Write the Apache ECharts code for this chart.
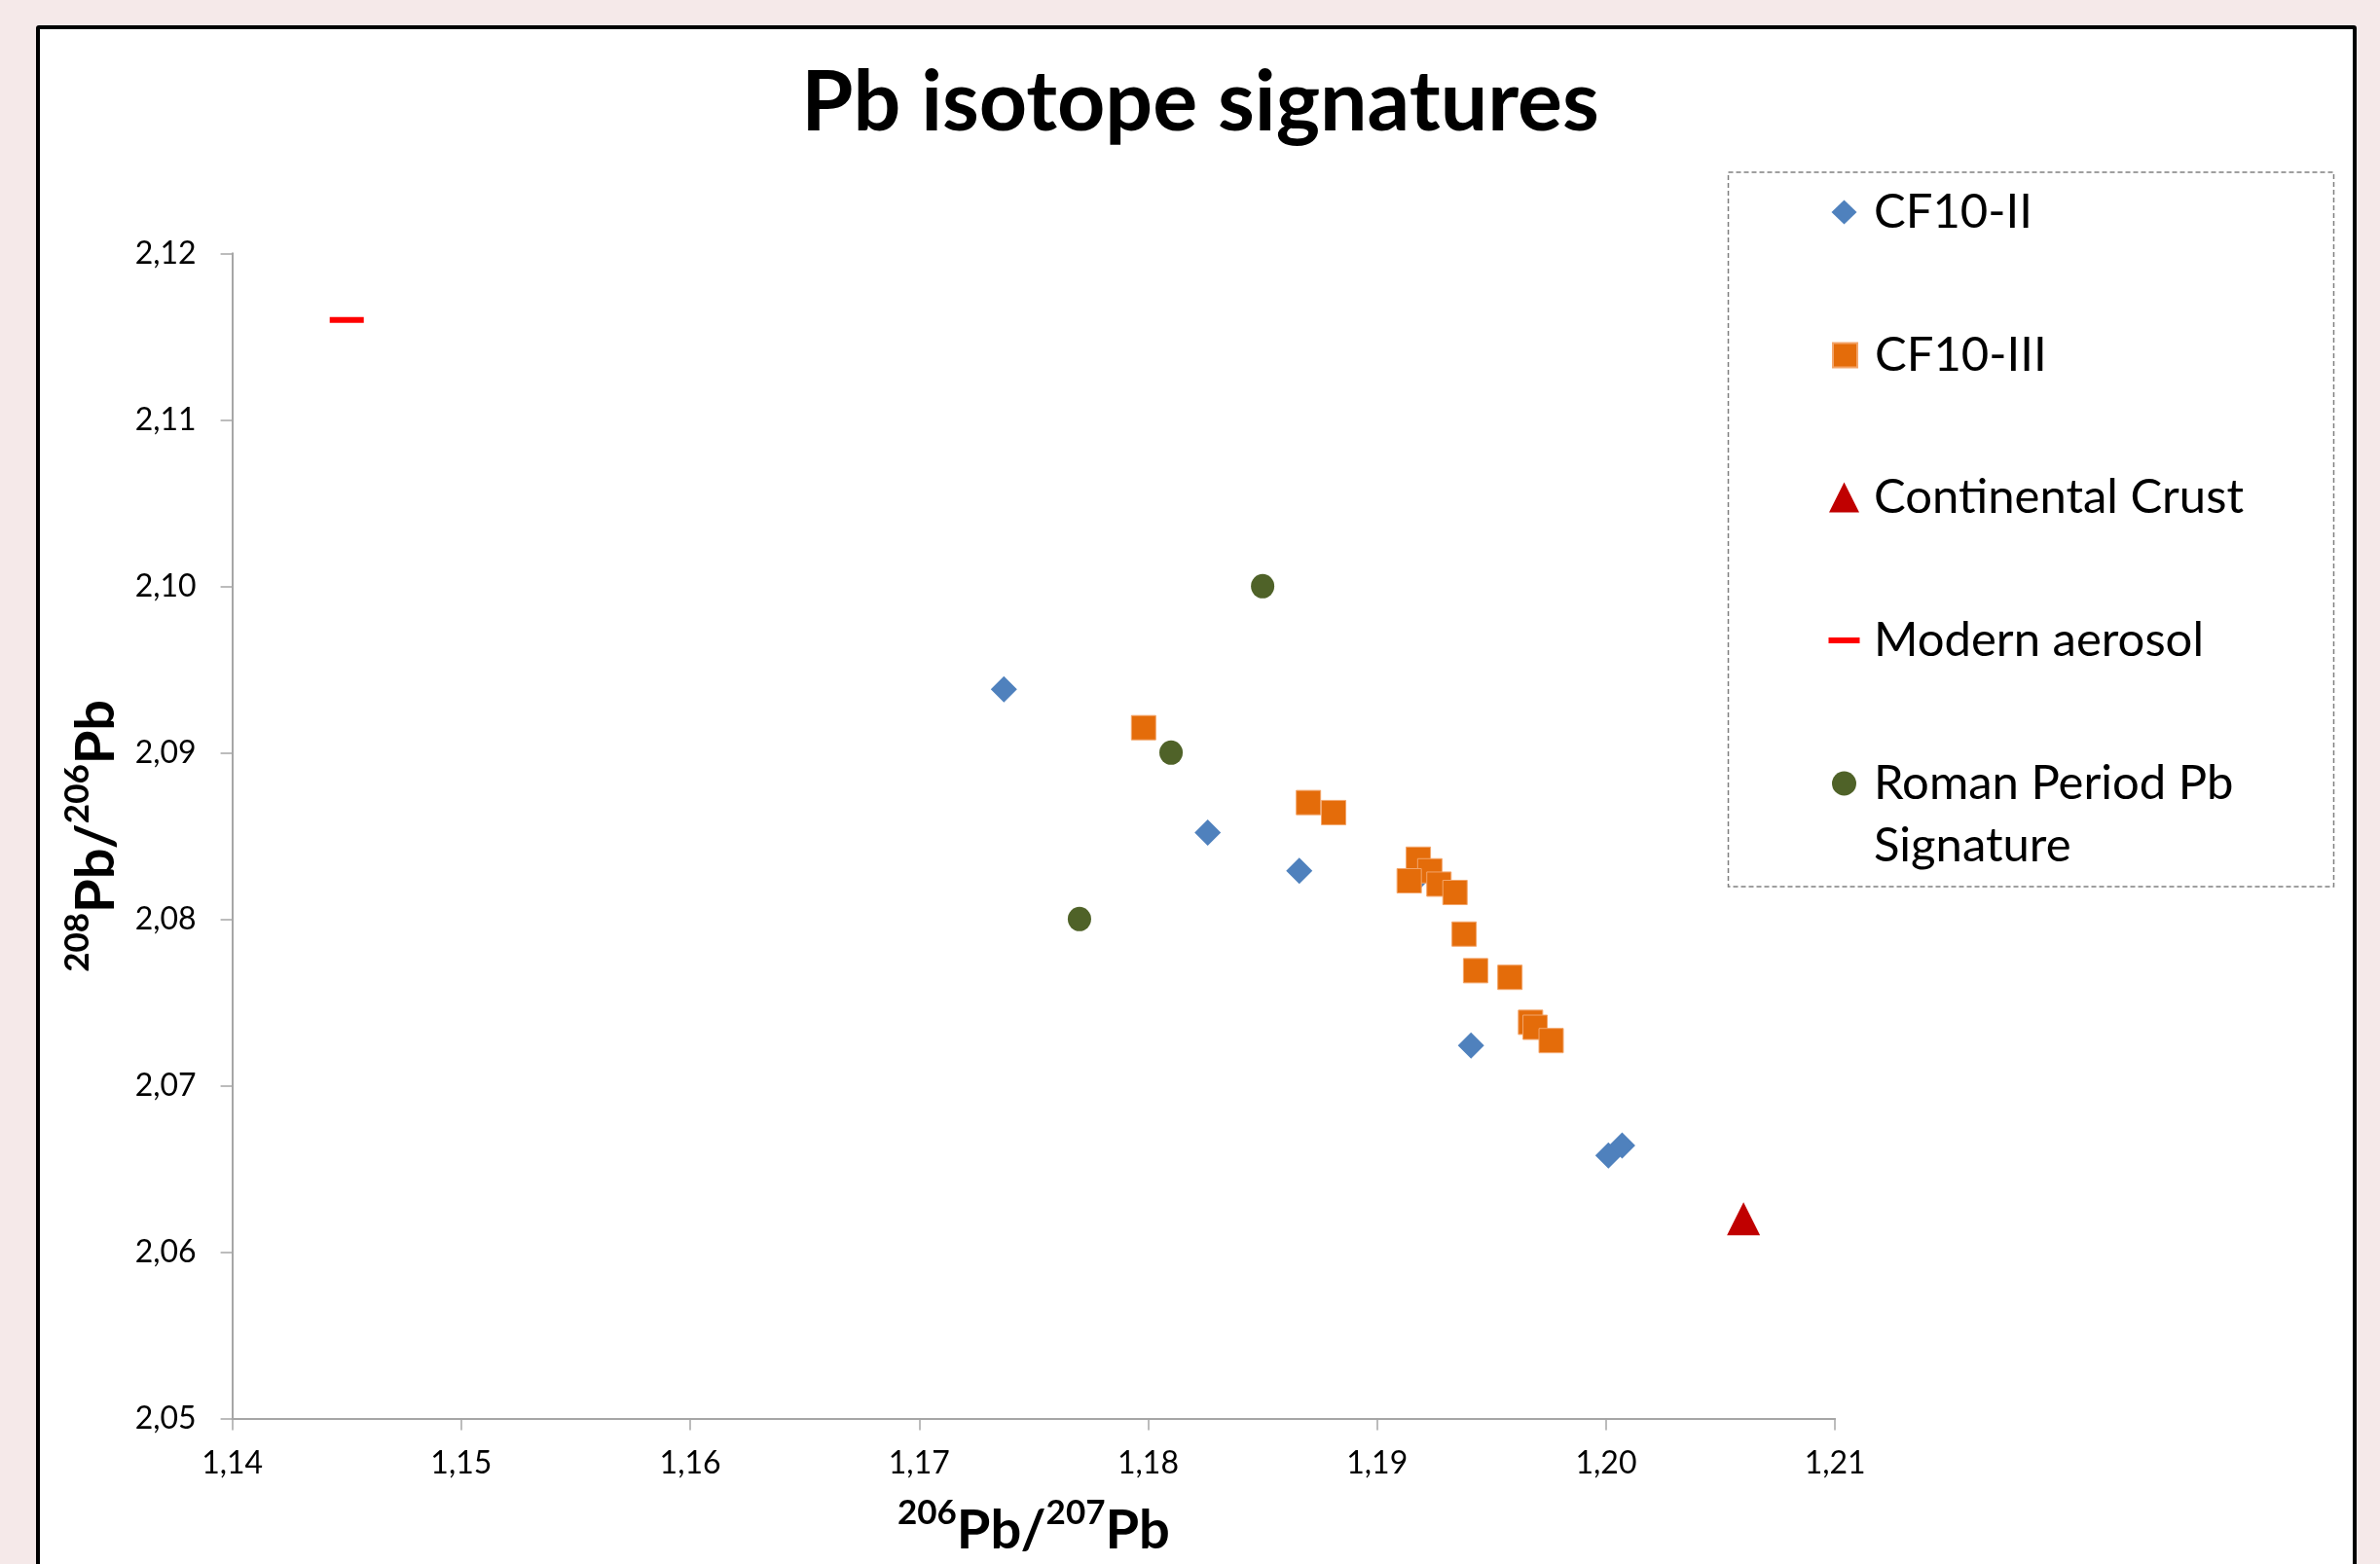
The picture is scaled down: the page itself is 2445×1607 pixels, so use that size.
<!DOCTYPE html>
<html lang="en">
    <head>
        <meta charset="UTF-8" />
        <script src="https://cdn.jsdelivr.net/npm/echarts@6.0.0/dist/echarts.min.js"></script>
        <title>Pb isotope signatures</title>
        <style>
            body {
                margin: 0;
                background: #f5e9e9;
                overflow: hidden;
            }

            #frame {
                position: absolute;
                left: 37px;
                top: 26px;
                width: 2384px;
                height: 1700px;
                box-sizing: border-box;
                border: 4px solid #000;
                border-radius: 3px;
                background: #fff;
            }

            #chart {
                position: absolute;
                left: 0;
                top: 0;
                width: 2445px;
                height: 1607px;
            }
        </style>
    </head>

    <body>
        <div id="frame"></div>
        <div id="chart"></div>
        <script type="text/javascript">
            // values: [206Pb/207Pb, 208Pb/206Pb]
            var cf10II = [
                [1.1737, 2.0938],
                [1.1826, 2.0852],
                [1.1866, 2.0829],
                [1.1918, 2.0825],
                [1.1941, 2.0724],
                [1.2001, 2.0658],
                [1.2007, 2.0664],
            ];
            var cf10III = [
                [1.1798, 2.0915],
                [1.187, 2.087],
                [1.1881, 2.0864],
                [1.1918, 2.0836],
                [1.1923, 2.0829],
                [1.1914, 2.0823],
                [1.1927, 2.0821],
                [1.1934, 2.0816],
                [1.1938, 2.0791],
                [1.1943, 2.0769],
                [1.1958, 2.0765],
                [1.1967, 2.0738],
                [1.1969, 2.0735],
                [1.1976, 2.0727],
            ];
            var crust = [[1.206, 2.062]];
            var aerosol = [[1.145, 2.116]];
            var roman = [
                [1.185, 2.1],
                [1.181, 2.09],
                [1.177, 2.08],
            ];

            var seriesNames = ["CF10-II", "CF10-III", "Continental Crust", "Modern aerosol", "Roman Period Pb Signature"];
            var xRange = [1.14, 1.21];
            var yRange = [2.05, 2.12];
            var step = 0.01;

            var FONT = "Lato";

            function comma(v) {
                return v.toFixed(2).replace(".", ",");
            }

            var supRich = {
                s: { fontFamily: FONT, fontWeight: "bold", fontSize: 35, color: "#000", verticalAlign: "top", lineHeight: 64 },
                b: { fontFamily: FONT, fontWeight: "bold", fontSize: 56, color: "#000", verticalAlign: "bottom", lineHeight: 64 },
            };

            // one legend per entry so each icon can have its own size
            function legendItem(name, left, centerY, w, h, padLeft, twoLines) {
                var lh = 64;
                return {
                    data: [name],
                    orient: "vertical",
                    left: left,
                    top: twoLines ? centerY - 1.5 * lh : centerY - lh / 2,
                    padding: 0,
                    itemWidth: w,
                    itemHeight: h,
                    selectedMode: false,
                    // leading empty line keeps the first text line level with the icon
                    formatter: twoLines ? "\nRoman Period Pb\nSignature" : "{name}",
                    textStyle: {
                        fontFamily: FONT,
                        fontSize: 49,
                        color: "#000",
                        lineHeight: lh,
                        padding: [0, 0, 0, padLeft],
                    },
                };
            }

            var chart = echarts.init(document.getElementById("chart"));

            var option = {
                backgroundColor: "transparent",
                animation: false,
                title: {
                    text: "Pb isotope signatures",
                    left: 1228,
                    top: 58,
                    textAlign: "center",
                    textStyle: {
                        fontFamily: FONT,
                        fontWeight: "bold",
                        fontSize: 86,
                        color: "#000",
                    },
                },
                grid: {
                    left: 238.6,
                    right: 559.8,
                    top: 260.3,
                    bottom: 149.6,
                    containLabel: false,
                    outerBoundsMode: "none",
                },
                legend: [
                    legendItem(seriesNames[0], 1881.5, 218, 26, 25, 12.5, false),
                    legendItem(seriesNames[1], 1882, 365, 25, 25, 13, false),
                    legendItem(seriesNames[2], 1879, 511, 31, 31, 10, false),
                    legendItem(seriesNames[3], 1878.5, 658, 32, 6, 9.5, false),
                    legendItem(seriesNames[4], 1882, 805, 25, 25, 13, true),
                ],
                graphic: [
                    {
                        type: "rect",
                        z: -1,
                        shape: { x: 1775.5, y: 177, width: 622, height: 734 },
                        style: { fill: "#fff", stroke: "#808080", lineWidth: 1.5, lineDash: [5, 3] },
                    },
                ],
                xAxis: {
                    type: "value",
                    min: xRange[0],
                    max: xRange[1],
                    interval: step,
                    name: "{s|206}{b|Pb/}{s|207}{b|Pb}",
                    nameLocation: "middle",
                    nameGap: 80,
                    nameTextStyle: { color: "#000", rich: supRich },
                    axisLine: { lineStyle: { color: "#a6a6a6", width: 2 } },
                    axisTick: { length: 12, lineStyle: { color: "#a6a6a6", width: 1.5 } },
                    axisLabel: {
                        formatter: comma,
                        margin: 30,
                        fontFamily: FONT,
                        fontSize: 32,
                        color: "#000",
                    },
                    splitLine: { show: false },
                },
                yAxis: {
                    type: "value",
                    min: yRange[0],
                    max: yRange[1],
                    interval: step,
                    name: "{s|208}{b|Pb/}{s|206}{b|Pb}",
                    nameLocation: "middle",
                    nameGap: 112,
                    nameTextStyle: { color: "#000", rich: supRich },
                    axisLine: { lineStyle: { color: "#a6a6a6", width: 2 } },
                    axisTick: { length: 12, lineStyle: { color: "#a6a6a6", width: 1.5 } },
                    axisLabel: {
                        formatter: comma,
                        margin: 37,
                        fontFamily: FONT,
                        fontSize: 32,
                        color: "#000",
                    },
                    splitLine: { show: false },
                },
                series: [
                    {
                        name: seriesNames[0],
                        type: "scatter",
                        symbol: "diamond",
                        symbolSize: [27, 27],
                        itemStyle: { color: "#4f81bd", opacity: 1 },
                        data: cf10II,
                    },
                    {
                        name: seriesNames[1],
                        type: "scatter",
                        symbol: "rect",
                        symbolSize: [25, 25],
                        itemStyle: { color: "#e46c0a", opacity: 1, borderColor: "#f3a56a", borderWidth: 1 },
                        data: cf10III,
                    },
                    {
                        name: seriesNames[2],
                        type: "scatter",
                        symbol: "triangle",
                        symbolSize: [34, 34],
                        itemStyle: { color: "#c00000", opacity: 1 },
                        data: crust,
                    },
                    {
                        name: seriesNames[3],
                        type: "scatter",
                        symbol: "rect",
                        symbolSize: [35, 6],
                        itemStyle: { color: "#ff0000", opacity: 1 },
                        data: aerosol,
                    },
                    {
                        name: seriesNames[4],
                        type: "scatter",
                        symbol: "circle",
                        symbolSize: [24, 25],
                        itemStyle: { color: "#4f6228", opacity: 1 },
                        data: roman,
                    },
                ],
            };

            chart.setOption(option);
        </script>
    </body>
</html>
